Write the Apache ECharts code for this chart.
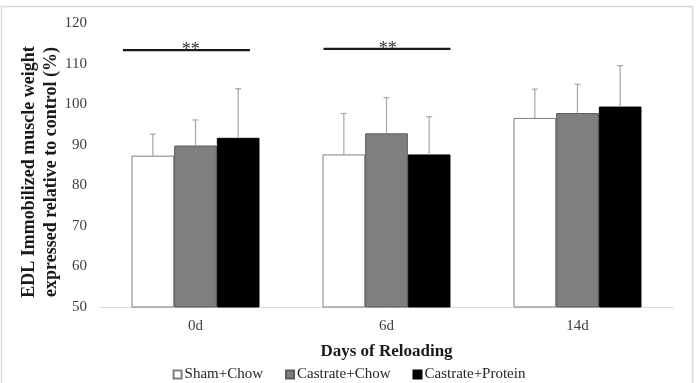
<!DOCTYPE html>
<html>
<head>
<meta charset="utf-8">
<script src="https://cdn.jsdelivr.net/npm/echarts@6/dist/echarts.min.js"></script>
<style>
  html, body { margin: 0; padding: 0; background: #fff; }
  #main { width: 698px; height: 383px; }
</style>
</head>
<body>
<div id="main"></div>
<script>
// data
const days = ['0d', '6d', '14d'];
const groups = ['Sham+Chow', 'Castrate+Chow', 'Castrate+Protein'];
const shamChow = [87.3, 87.6, 96.6];
const shamChowErr = [92.6, 97.7, 103.7];
const castChow = [89.8, 92.8, 97.8];
const castChowErr = [96.1, 101.6, 104.9];
const castProtein = [91.7, 87.6, 99.4];
const castProteinErr = [103.8, 96.9, 109.5];
const yTicks = [50, 60, 70, 80, 90, 100, 110, 120];
const sigDays = ['0d', '6d'];
const sigLevel = [113.3, 113.6];
const sigMark = ['**', '**'];

const values = [shamChow, castChow, castProtein];
const errTops = [shamChowErr, castChowErr, castProteinErr];
const fills = ['#ffffff', '#7f7f7f', '#000000'];
const edges = ['#7f7f7f', '#5a5a5a', '#000000'];
const font = '"Liberation Serif", "Times New Roman", serif';
const catGap = 0.33;

let chartDom = document.getElementById('main');
let myChart = echarts.init(chartDom);

function errSeries(i) {
  return {
    type: 'custom',
    silent: true,
    z: 5,
    data: days.map((d, k) => [k, values[i][k], errTops[i][k]]),
    renderItem: function (params, api) {
      let band = api.size([1, 0])[0];
      let bw = band * (1 - catGap) / 3;
      let base = api.coord([api.value(0), api.value(1)]);
      let top = api.coord([api.value(0), api.value(2)]);
      let x = base[0] + (i - 1) * bw;
      let st = { stroke: '#a6a6a6', lineWidth: 1.2 };
      return {
        type: 'group',
        children: [
          { type: 'line', shape: { x1: x, y1: base[1], x2: x, y2: top[1] }, style: st },
          { type: 'line', shape: { x1: x - 3, y1: top[1], x2: x + 3, y2: top[1] }, style: st }
        ]
      };
    }
  };
}

// per-bracket horizontal extents, in band widths from the category centre
const sigSpan = [[-0.38, 0.285], [-0.33, 0.335]];
const sigText = [-0.025, 0.006];

let sigSeries = {
  type: 'custom',
  silent: true,
  z: 6,
  data: sigDays.map((d, k) => [days.indexOf(d), sigLevel[k], k]),
  renderItem: function (params, api) {
    let band = api.size([1, 0])[0];
    let p = api.coord([api.value(0), api.value(1)]);
    let k = api.value(2);
    return {
      type: 'group',
      children: [
        { type: 'line', shape: { x1: p[0] + sigSpan[k][0] * band, y1: p[1], x2: p[0] + sigSpan[k][1] * band, y2: p[1] },
          style: { stroke: '#1a1a1a', lineWidth: 2.2 } },
        { type: 'text', x: p[0] + sigText[k] * band, y: p[1] + 9,
          style: { text: sigMark[k], fill: '#333', font: '18px ' + font, align: 'center', verticalAlign: 'bottom' } }
      ]
    };
  }
};

let option = {
  animation: false,
  textStyle: { fontFamily: font },
  graphic: [{
    type: 'rect', silent: true,
    shape: { x: 1.5, y: 6.5, width: 691, height: 390 },
    style: { fill: 'none', stroke: '#d9d9d9', lineWidth: 1.5 }
  }],
  grid: { left: 100, right: 25, top: 23, bottom: 76 },
  legend: {
    data: groups,
    top: 362,
    left: 'center',
    itemWidth: 8,
    itemHeight: 8,
    itemGap: 22,
    icon: 'rect',
    textStyle: { fontFamily: font, fontSize: 15, color: '#262626', padding: [0, 0, 0, -2] }
  },
  xAxis: {
    type: 'category',
    data: days,
    name: 'Days of Reloading',
    nameLocation: 'middle',
    nameGap: 36,
    nameTextStyle: { fontFamily: font, fontSize: 17, fontWeight: 'bold', color: '#1a1a1a' },
    axisLine: { lineStyle: { color: '#d9d9d9', width: 1 } },
    axisTick: { show: false },
    axisLabel: { fontFamily: font, fontSize: 15, color: '#404040', margin: 12 }
  },
  yAxis: {
    type: 'value',
    min: yTicks[0],
    max: yTicks[yTicks.length - 1],
    interval: yTicks[1] - yTicks[0],
    name: 'EDL Immobilized muscle weight\nexpressed relative to control (%)',
    nameLocation: 'middle',
    nameGap: 38,
    nameMoveOverlap: false,
    nameTextStyle: { fontFamily: font, fontSize: 18, fontWeight: 'bold', color: '#1a1a1a', lineHeight: 22, padding: [0, 14, 0, 0] },
    axisLine: { show: false },
    axisTick: { show: false },
    splitLine: { show: false },
    axisLabel: { fontFamily: font, fontSize: 15, color: '#404040', margin: 13 }
  },
  series: groups.map((g, i) => ({
    name: g,
    type: 'bar',
    data: values[i],
    barGap: '0%',
    barCategoryGap: (catGap * 100) + '%',
    itemStyle: { color: fills[i], borderColor: edges[i], borderWidth: 1 }
  })).concat([errSeries(0), errSeries(1), errSeries(2), sigSeries])
};

myChart.setOption(option);
</script>
</body>
</html>
